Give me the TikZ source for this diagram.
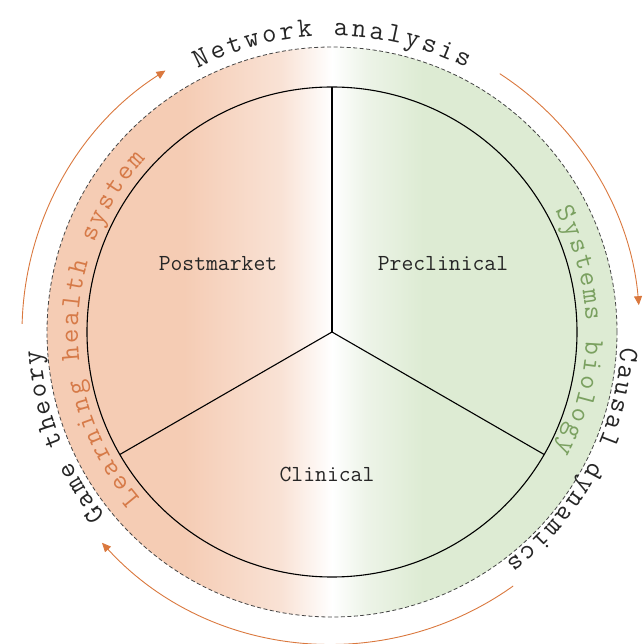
\documentclass[tikz,border=0pt]{standalone}
\usetikzlibrary{decorations.text,arrows.meta}
\definecolor{og}{RGB}{245,204,180}
\definecolor{ogm}{RGB}{249,226,213}
\definecolor{gr}{RGB}{221,235,211}
\definecolor{grm}{RGB}{237,244,232}
\definecolor{arrowc}{RGB}{218,120,62}
\definecolor{lhs}{RGB}{214,122,72}
\definecolor{sbc}{RGB}{122,160,96}
\definecolor{dashc}{RGB}{70,70,70}
\pgfdeclarehorizontalshading{ogshade}{100bp}{color(0bp)=(og); color(37bp)=(og); color(45.5bp)=(ogm); color(50bp)=(white); color(53bp)=(grm); color(58bp)=(gr); color(100bp)=(gr)}
\newcommand{\curvefont}{\ttfamily\fontsize{28}{30}\selectfont}
\tikzset{
  seclabel/.style={font=\ttfamily\fontsize{23}{26}\selectfont, text=black!85},
  cyclearrow/.style={arrowc, line width=0.9pt, -{Triangle[length=9pt,width=8pt]}},
  curvetext/.style 2 args={decorate, decoration={text along path, text align=fit to path, text color=#2, text={|\curvefont|#1}}}
}
\begin{document}
\begin{tikzpicture}
\useasboundingbox (-332pt,-312pt) rectangle (310pt,332pt);
\coordinate (O) at (0pt,0pt);
% background gradient disk
\path[shading=ogshade] (O) circle[radius=285pt];
\draw[dashc, line width=0.8pt, dash pattern=on 4pt off 2.5pt] (O) circle[radius=285pt];
% inner circle and sectors
\draw[black, line width=1.1pt] (O) circle[radius=245pt];
\coordinate (T) at (90:245pt);
\coordinate (L) at (210:245pt);
\coordinate (R) at (330:245pt);
\draw[black, line width=1.1pt] (O) -- (T);
\draw[black, line width=1.1pt] (O) -- (L);
\draw[black, line width=1.1pt] (O) -- (R);
% sector labels
\node[seclabel] (post) at (-114pt,68pt) {Postmarket};
\node[seclabel] (pre) at (111pt,68pt) {Preclinical};
\node[seclabel] (clin) at (-5pt,-142pt) {Clinical};
% cycle arrows
\coordinate (a1s) at (178.5:310pt);
\coordinate (a2s) at (57:308pt);
\coordinate (a3s) at (-54.5:312pt);
\draw[cyclearrow] (a1s) arc[start angle=178.5, end angle=122.5, radius=310pt];
\draw[cyclearrow] (a2s) arc[start angle=57, end angle=5, radius=308pt];
\draw[cyclearrow] (a3s) arc[start angle=-54.5, end angle=-137.5, radius=312pt];
% outer curved texts
\path[curvetext={Network analysis}{black!85}] (117:296pt) arc[start angle=117, end angle=63, radius=296pt];
\path[curvetext={Causal dynamics}{black!85}] (-3:289pt) arc[start angle=-3, end angle=-53, radius=289pt];
\path[curvetext={Game theory}{black!85}] (219:292pt) arc[start angle=219, end angle=183.5, radius=292pt];
% inner curved texts
\path[curvetext={Learning health system}{lhs}] (221:254pt) arc[start angle=221, end angle=137, radius=254pt];
\path[curvetext={Systems biology}{sbc}] (28.5:254pt) arc[start angle=28.5, end angle=-28, radius=254pt];
\end{tikzpicture}
\end{document}
